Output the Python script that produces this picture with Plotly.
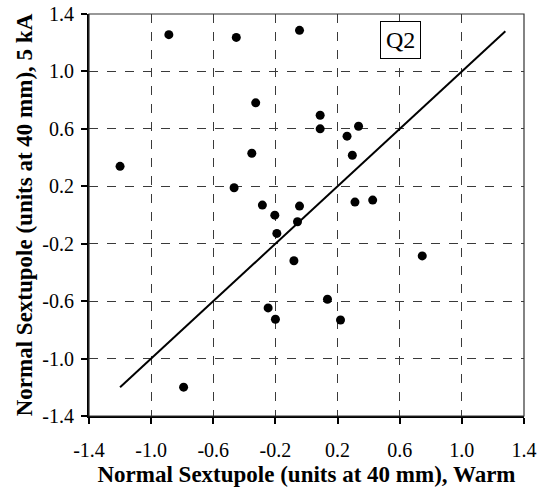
import plotly.graph_objects as go

# Normal sextupole (units at 40 mm): warm measurement vs. 5 kA measurement
warm = [-0.886, -0.452, -0.045, -0.327, 0.088, 0.088, 0.335, 0.261, 0.295,
        -0.352, -1.200, -0.466, -0.284, -0.204, -0.191, -0.058, -0.045,
        0.312, 0.426, -0.081, 0.745, 0.135, -0.247, -0.200, 0.219, -0.791]
cold_5ka = [1.256, 1.237, 1.286, 0.781, 0.695, 0.600, 0.618, 0.549, 0.416,
            0.430, 0.339, 0.190, 0.069, -0.001, -0.128, -0.047, 0.062,
            0.090, 0.104, -0.319, -0.285, -0.587, -0.647, -0.726, -0.731, -1.199]

# y = x reference line
ref_line = [-1.2, 1.28]

tick_vals = [-1.4, -1.0, -0.6, -0.2, 0.2, 0.6, 1.0, 1.4]
tick_text = ["-1.4", "-1.0", "-0.6", "-0.2", "0.2", "0.6", "1.0", "1.4"]

FONT = "Liberation Serif"

fig = go.Figure()
fig.add_trace(go.Scatter(x=ref_line, y=ref_line, mode="lines",
                         line=dict(color="black", width=2), hoverinfo="skip"))
fig.add_trace(go.Scatter(x=warm, y=cold_5ka, mode="markers",
                         marker=dict(color="black", size=9)))

axis_common = dict(
    range=[-1.4, 1.4], tickvals=tick_vals, ticktext=tick_text,
    showgrid=True, gridcolor="#3a3a3a", griddash="dash", gridwidth=1,
    zeroline=False, showline=True, linecolor="black", linewidth=2,
    ticks="outside", ticklen=6, tickwidth=1.5, tickcolor="black",
    tickfont=dict(family=FONT, size=20, color="black"),
    automargin=False,
)

fig.update_xaxes(**axis_common, ticklabelstandoff=9,
                 title=dict(text="<b>Normal Sextupole (units at 40 mm), Warm</b>",
                            font=dict(family=FONT, size=23, color="black"),
                            standoff=6))
fig.update_yaxes(**axis_common, ticklabelstandoff=3,
                 title=dict(text="<b>Normal Sextupole (units at 40 mm), 5 kA</b>",
                            font=dict(family=FONT, size=23, color="black"),
                            standoff=3))

# thin frame on the top and right edges
fig.add_shape(type="rect", xref="paper", yref="paper", x0=0, y0=0, x1=1, y1=1,
              line=dict(color="#333", width=1.2), layer="above")

fig.add_annotation(x=0.608, y=1.217, text="Q2", showarrow=False,
                   font=dict(family=FONT, size=24, color="black"),
                   bordercolor="black", borderwidth=1, borderpad=5,
                   bgcolor="white")

fig.update_layout(
    width=540, height=491, showlegend=False,
    paper_bgcolor="white", plot_bgcolor="white",
    margin=dict(l=89, r=16, t=14, b=75),
)

fig.write_html("out.html")
